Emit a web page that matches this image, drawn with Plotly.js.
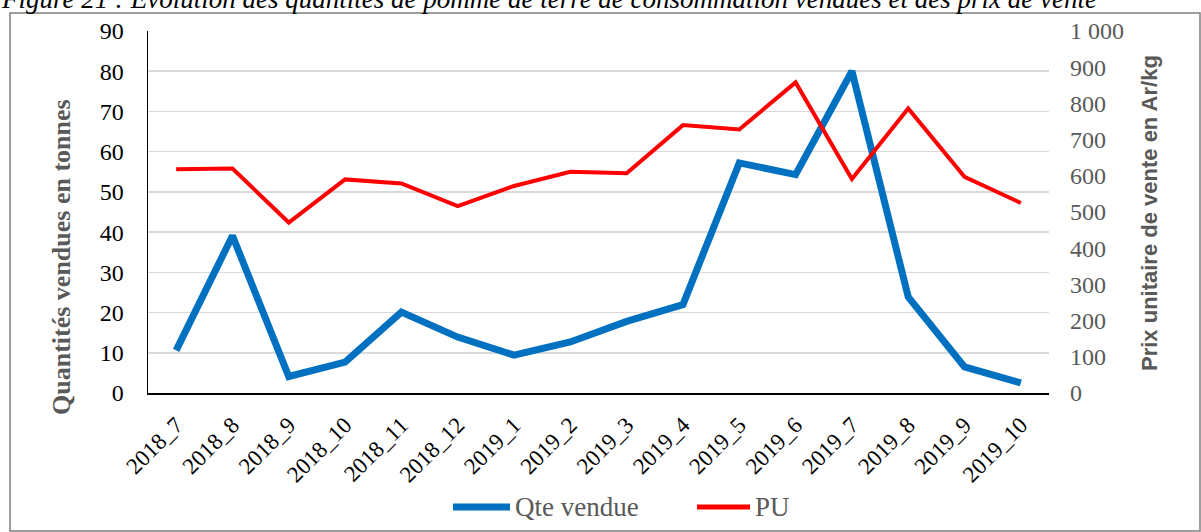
<!DOCTYPE html>
<html>
<head>
<meta charset="utf-8">
<script src="https://cdn.plot.ly/plotly-3.0.1.min.js"></script>
<style>html,body{margin:0;padding:0;background:#fff;} #chart{width:1201px;height:532px;}</style>
</head>
<body>
<div id="chart"></div>
<script>
const categories = ["2018_7","2018_8","2018_9","2018_10","2018_11","2018_12","2019_1","2019_2","2019_3","2019_4","2019_5","2019_6","2019_7","2019_8","2019_9","2019_10"];
const qteVendue = [10.6, 39.1, 4.1, 7.7, 20.1, 13.9, 9.4, 12.7, 17.8, 22.0, 57.2, 54.3, 80.0, 23.9, 6.5, 2.5];
const prixUnitaire = [618, 620, 471, 590, 579, 516, 572, 611, 607, 740, 728, 858, 591, 786, 597, 525];
const seriesNames = ["Qte vendue", "PU"];
const seriesColors = ["#0070C0", "#FF0000"];
const titleText = "Figure 21 : Evolution des quantités de pomme de terre de consommation vendues et des prix de vente";
const yTitleLeft = "Quantités vendues en tonnes";
const yTitleRight = "Prix unitaire de vente en Ar/kg";

const L = 148, R = 1049, T = 31, B = 393;
const W = R - L, H = B - T;
const px = x => (x - L) / W;
const py = y => (B - y) / H;

const serif = "Liberation Serif, Times New Roman, serif";
const gray = "#595959";

const traces = [
  {x: categories, y: qteVendue, name: seriesNames[0], type: "scatter", mode: "lines",
   line: {color: seriesColors[0], width: 7}, yaxis: "y"},
  {x: categories, y: prixUnitaire, name: seriesNames[1], type: "scatter", mode: "lines",
   line: {color: seriesColors[1], width: 4}, yaxis: "y2"}
];

// manual legend (longer line samples, as in the reference)
const legendItems = [
  {x0: 453, x1: 510, tx: 513, w: 7},
  {x0: 697, x1: 750, tx: 753, w: 5}
];
const legendY = 507;

const layout = {
  width: 1201, height: 532,
  margin: {l: L, r: 1201 - R, t: T, b: 532 - B, autoexpand: false},
  paper_bgcolor: "#fff", plot_bgcolor: "#fff",
  separators: ", ",
  showlegend: false,
  xaxis: {type: "category", range: [-0.5, 15.5], tickangle: -45, showgrid: false,
          showline: true, linecolor: "#000", linewidth: 1.5, ticks: "", ticklabelstandoff: 8,
          tickfont: {family: serif, size: 23, color: "#000"}, fixedrange: true},
  yaxis: {range: [0, 90], dtick: 10, showgrid: true, gridcolor: "#d9d9d9", gridwidth: 1.5,
          zeroline: false, showline: true, linecolor: "#000", linewidth: 1.5, ticks: "",
          ticklabelstandoff: 18, tickfont: {family: serif, size: 24, color: "#000"}},
  yaxis2: {range: [0, 1000], dtick: 100, overlaying: "y", side: "right", showgrid: false,
           zeroline: false, showline: false, ticks: "", tickformat: ",d", ticklabelstandoff: 20,
           tickfont: {family: serif, size: 24, color: gray}},
  annotations: [
    {text: "<i>" + titleText + "</i>", xref: "paper", yref: "paper", x: px(-1), y: py(-1),
     xanchor: "left", yanchor: "middle", showarrow: false,
     font: {family: serif, size: 27, color: "#000"}},
    {text: "<b>" + yTitleLeft + "</b>", xref: "paper", yref: "paper", x: px(61), y: py(257),
     xanchor: "center", yanchor: "middle", textangle: -90, showarrow: false,
     font: {family: serif, size: 26, color: gray}},
    {text: "<b>" + yTitleRight + "</b>", xref: "paper", yref: "paper", x: px(1150), y: py(213),
     xanchor: "center", yanchor: "middle", textangle: -90, showarrow: false,
     font: {family: "Liberation Sans, Arial, sans-serif", size: 22, color: gray}}
  ].concat(legendItems.map((it, i) => ({
     text: seriesNames[i], xref: "paper", yref: "paper", x: px(it.tx), y: py(legendY),
     xanchor: "left", yanchor: "middle", showarrow: false,
     font: {family: serif, size: 27, color: gray}}))),
  shapes: [
    {type: "rect", xref: "paper", yref: "paper", x0: px(10), x1: px(1200), y0: py(531), y1: py(13),
     line: {color: "#7f7f7f", width: 1.5}, fillcolor: "rgba(0,0,0,0)", layer: "below"}
  ].concat(legendItems.map((it, i) => ({
     type: "line", xref: "paper", yref: "paper", x0: px(it.x0), x1: px(it.x1),
     y0: py(legendY), y1: py(legendY), line: {color: seriesColors[i], width: it.w}})))
};

Plotly.newPlot("chart", traces, layout, {displayModeBar: false, staticPlot: true});
</script>
</body>
</html>
